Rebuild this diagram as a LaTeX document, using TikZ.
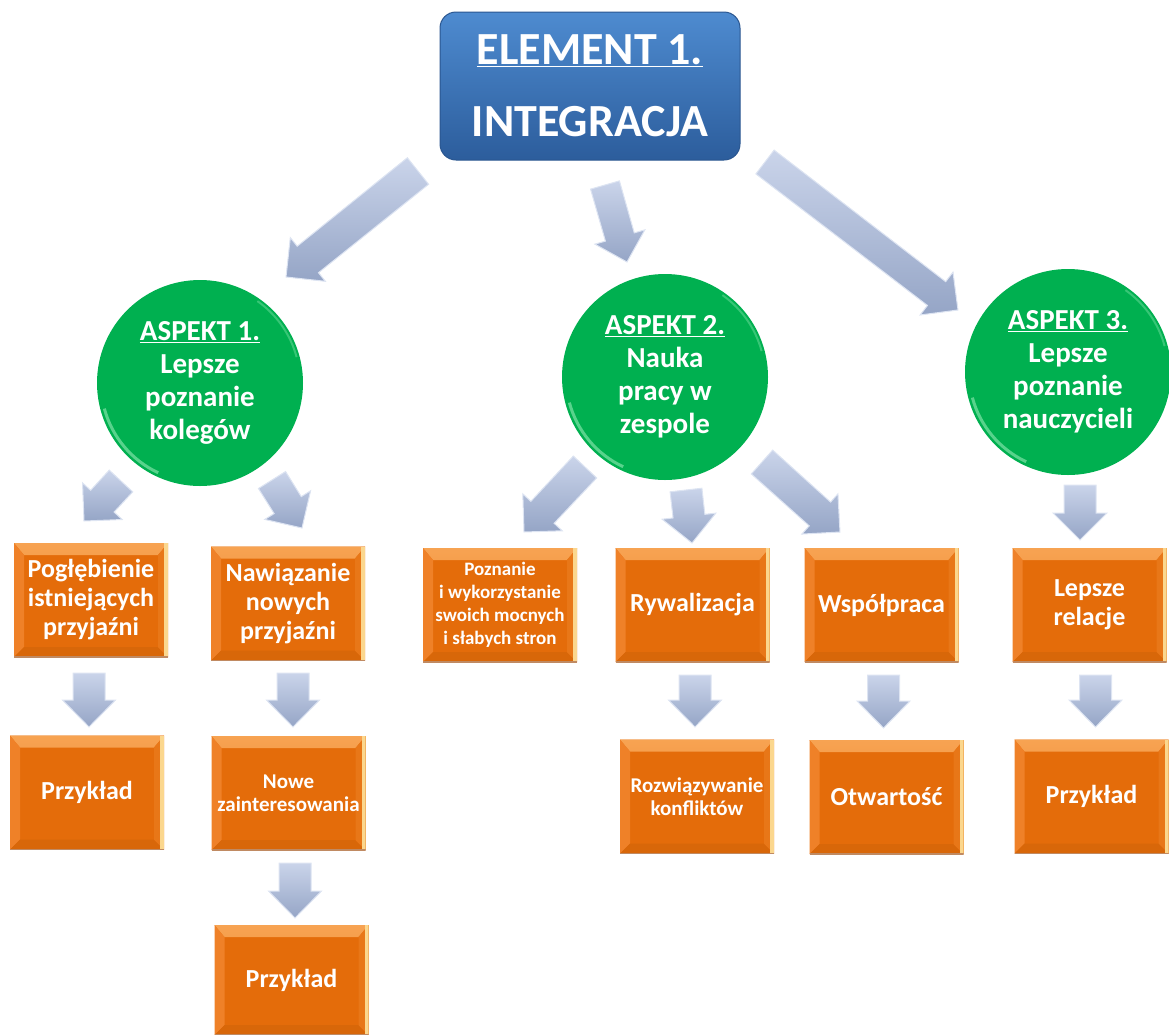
\documentclass[tikz,border=0pt]{standalone}
\usepackage{fontspec}
\setmainfont{Carlito}
\usetikzlibrary{calc}
\definecolor{obase}{HTML}{E46C0A}
\definecolor{olight}{HTML}{F7A352}
\definecolor{oleft}{HTML}{EF8128}
\definecolor{opale}{HTML}{FBD78E}
\definecolor{odark}{HTML}{C08A62}
\definecolor{gbase}{HTML}{00B050}
\definecolor{glight}{HTML}{6EDC9C}
\definecolor{btop}{HTML}{4E8BD0}
\definecolor{bbot}{HTML}{2C5D9C}
\definecolor{bedge}{HTML}{2A5690}
\definecolor{alight}{HTML}{CAD4EA}
\definecolor{adark}{HTML}{95A5C6}
\definecolor{aedge}{HTML}{DDE4F2}
\newcommand\fatarrow[5]{%
  \path let \p1=(#1), \p2=(#2) in \pgfextra{%
    \pgfmathsetmacro\faA{atan2(\y2-\y1,\x2-\x1)}%
    \pgfmathsetmacro\faL{veclen(\x2-\x1,\y2-\y1)}%
    \xdef\faang{\faA}\xdef\falen{\faL}};
  \begin{scope}[shift={(#1)},rotate=\faang]
    \path[arrowbody] (0,-#3/2) -- ({\falen-#5},-#3/2) -- ({\falen-#5},-#4/2) -- (\falen,0)
      -- ({\falen-#5},#4/2) -- ({\falen-#5},#3/2) -- (0,#3/2) -- cycle;
  \end{scope}
}
\tikzset{
  arrowbody/.style={top color=alight, bottom color=adark, draw=aedge, line width=1pt, line join=miter},
  ebox/.style={rectangle, rounded corners=16pt, top color=btop, bottom color=bbot, draw=bedge, line width=1pt,
    minimum width=300pt, minimum height=148pt, inner sep=0pt, align=center, text=white,
    font=\bfseries\fontsize{46}{72}\selectfont},
  gcirc/.style={circle, fill=gbase, minimum size=206pt, inner sep=0pt, align=center, text=white,
    font=\bfseries\fontsize{29}{33}\selectfont,
    path picture={
      \draw[glight, line width=3pt, opacity=0.8] ([shift={(195:99pt)}]path picture bounding box.center) arc[start angle=195, end angle=245, radius=99pt];
      \draw[glight, line width=2pt, opacity=0.5] ([shift={(15:100pt)}]path picture bounding box.center) arc[start angle=15, end angle=55, radius=100pt];
    }},
  obox/.style={rectangle, fill=obase, minimum width=154pt, minimum height=114pt, inner sep=0pt,
    align=center, text=white, font=\bfseries\fontsize{26}{29}\selectfont,
    path picture={
      \fill[top color=olight, bottom color=oleft] (path picture bounding box.north west) -- (path picture bounding box.north east)
        -- ([xshift=-10pt,yshift=-12pt]path picture bounding box.north east) -- ([xshift=10pt,yshift=-12pt]path picture bounding box.north west) -- cycle;
      \fill[oleft] (path picture bounding box.north west) -- ([xshift=10pt,yshift=-12pt]path picture bounding box.north west)
        -- ([xshift=10pt,yshift=10pt]path picture bounding box.south west) -- (path picture bounding box.south west) -- cycle;
      \fill[obase!95!black] (path picture bounding box.south west) -- ([xshift=10pt,yshift=10pt]path picture bounding box.south west)
        -- ([xshift=-10pt,yshift=10pt]path picture bounding box.south east) -- (path picture bounding box.south east) -- cycle;
      \fill[obase!80!olight] (path picture bounding box.north east) -- ([xshift=-10pt,yshift=-12pt]path picture bounding box.north east)
        -- ([xshift=-10pt,yshift=10pt]path picture bounding box.south east) -- (path picture bounding box.south east) -- cycle;
      \fill[opale] ([xshift=-4pt]path picture bounding box.north east) rectangle (path picture bounding box.south east);
      \draw[odark, line width=2pt] (path picture bounding box.south west) -- (path picture bounding box.south east);
    }},
  small/.style={font=\bfseries\fontsize{19}{23}\selectfont},
  mid/.style={font=\bfseries\fontsize{21}{23}\selectfont}
}
\begin{document}
\begin{tikzpicture}[x=1pt,y=-1pt]
\useasboundingbox (0,0) rectangle (1169,1034);
% top
\node[ebox] (el) at (590,86) {\underline{ELEMENT 1.}\\INTEGRACJA};
% aspects
\node[gcirc] (as1) at (200,383) {\underline{ASPEKT 1.}\\Lepsze\\poznanie\\kolegów};
\node[gcirc] (as2) at (665,377) {\underline{ASPEKT 2.}\\Nauka\\pracy w\\zespole};
\node[gcirc] (as3) at (1068,372) {\underline{ASPEKT 3.}\\Lepsze\\poznanie\\nauczycieli};
% row 1
\node[obox] (b1) at (91,600) {Pogłębienie\\istniejących\\przyjaźni};
\node[obox] (b2) at (288,603.5) {Nawiązanie\\nowych\\przyjaźni};
\node[obox, small] (b3) at (500,605) {Poznanie\\i wykorzystanie\\swoich mocnych\\i słabych stron};
\node[obox] (b4) at (692.5,605) {Rywalizacja};
\node[obox] (b5) at (881.5,605) {Współpraca};
\node[obox] (b6) at (1089.5,605) {Lepsze\\relacje};
% row 2
\node[obox] (c1) at (87,792.5) {Przykład};
\node[obox, mid] (c2) at (288.5,793) {Nowe\\zainteresowania};
\node[obox, mid] (c4) at (697,796.5) {Rozwiązywanie\\konfliktów};
\node[obox] (c5) at (886.5,797) {Otwartość};
\node[obox] (c6) at (1091.5,796.5) {Przykład};
% row 3
\node[obox, minimum height=110pt] (d2) at (291.5,980) {Przykład};
% arrow end points
\coordinate (t1s) at (418,171); \coordinate (t1t) at (286,277);
\coordinate (t2s) at (605,185); \coordinate (t2t) at (627,262);
\coordinate (t3s) at (765,162); \coordinate (t3t) at (958,310);
\coordinate (p1s) at (121,481); \coordinate (p1t) at (84,521);
\coordinate (p2s) at (272,480); \coordinate (p2t) at (302,528);
\coordinate (q1s) at (585,467); \coordinate (q1t) at (524,532);
\coordinate (q2s) at (686,490); \coordinate (q2t) at (692,543);
\coordinate (q3s) at (762,462); \coordinate (q3t) at (840,532);
\coordinate (r1s) at (1080,485); \coordinate (r1t) at (1080,540);
\coordinate (v1s) at (89,673); \coordinate (v1t) at (89,727);
\coordinate (v2s) at (293,673); \coordinate (v2t) at (293,727);
\coordinate (v4s) at (695,675); \coordinate (v4t) at (695,727);
\coordinate (v5s) at (883.5,675); \coordinate (v5t) at (883.5,728);
\coordinate (v6s) at (1095.5,675); \coordinate (v6t) at (1095.5,727);
\coordinate (v7s) at (295,863); \coordinate (v7t) at (295,918);
% arrows
\fatarrow{t1s}{t1t}{34}{56}{28}
\fatarrow{t2s}{t2t}{30}{52}{26}
\fatarrow{t3s}{t3t}{30}{54}{27}
\fatarrow{p1s}{p1t}{32}{54}{27}
\fatarrow{p2s}{p2t}{32}{54}{27}
\fatarrow{q1s}{q1t}{32}{54}{27}
\fatarrow{q2s}{q2t}{32}{54}{27}
\fatarrow{q3s}{q3t}{32}{54}{27}
\fatarrow{r1s}{r1t}{32}{54}{27}
\fatarrow{v1s}{v1t}{32}{53}{27}
\fatarrow{v2s}{v2t}{32}{53}{27}
\fatarrow{v4s}{v4t}{32}{53}{27}
\fatarrow{v5s}{v5t}{32}{53}{27}
\fatarrow{v6s}{v6t}{32}{53}{27}
\fatarrow{v7s}{v7t}{32}{53}{27}
\end{tikzpicture}
\end{document}
